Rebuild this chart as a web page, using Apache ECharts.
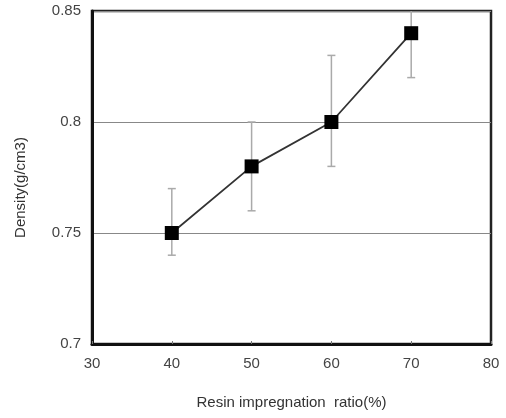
<!DOCTYPE html>
<html>
<head>
<meta charset="utf-8">
<script src="https://cdn.jsdelivr.net/npm/echarts@6/dist/echarts.min.js"></script>
<style>
  html, body { margin: 0; padding: 0; background: #fff; }
  #main { width: 506px; height: 418px; }
</style>
</head>
<body>
<div id="main"></div>
<script>
// resin impregnation ratio vs density
var ratios = [40, 50, 60, 70];
var density = [0.75, 0.78, 0.80, 0.84];
var errLow = [0.74, 0.76, 0.78, 0.82];
var errHigh = [0.77, 0.80, 0.83, 0.86];

var chart = echarts.init(document.getElementById('main'));

var font = 'Liberation Sans, DejaVu Sans, sans-serif';

var option = {
    animation: false,
    grid: {
        left: 92,
        top: 11,
        right: 15,
        bottom: 74,
        show: true,
        borderColor: '#222',
        borderWidth: 2.5
    },
    xAxis: {
        type: 'value',
        min: 30,
        max: 80,
        interval: 10,
        name: 'Resin impregnation  ratio(%)',
        nameLocation: 'middle',
        nameGap: 51,
        nameTextStyle: {color: '#333', fontSize: 15, fontFamily: font},
        axisLine: {show: true, lineStyle: {color: '#111', width: 3}},
        axisTick: {show: true, inside: true, length: 3, lineStyle: {color: '#777'}},
        axisLabel: {color: '#444', fontSize: 15, fontFamily: font, margin: 12},
        splitLine: {show: false}
    },
    yAxis: {
        type: 'value',
        min: 0.7,
        max: 0.85,
        interval: 0.05,
        name: 'Density(g/cm3)',
        nameLocation: 'middle',
        nameGap: 64,
        nameTextStyle: {color: '#333', fontSize: 15, fontFamily: font, padding: [0, 20, 0, 0]},
        axisLine: {show: true, lineStyle: {color: '#111', width: 3}},
        axisTick: {show: false},
        axisLabel: {color: '#444', fontSize: 15, fontFamily: font, margin: 11,
            formatter: function (v) { return String(parseFloat(v.toFixed(2))); }},
        splitLine: {show: true, lineStyle: {color: '#888', width: 1}}
    },
    series: [
        {
            type: 'custom',
            z: 1,
            clip: true,
            data: ratios.map(function (r, i) { return [r, errLow[i], errHigh[i]]; }),
            renderItem: function (params, api) {
                var lo = api.coord([api.value(0), api.value(1)]);
                var hi = api.coord([api.value(0), api.value(2)]);
                var cap = 4;
                var style = {stroke: '#aaa', lineWidth: 1.5};
                return {
                    type: 'group',
                    children: [
                        {type: 'line', shape: {x1: lo[0], y1: lo[1], x2: hi[0], y2: hi[1]}, style: style},
                        {type: 'line', shape: {x1: lo[0] - cap, y1: lo[1], x2: lo[0] + cap, y2: lo[1]}, style: style},
                        {type: 'line', shape: {x1: hi[0] - cap, y1: hi[1], x2: hi[0] + cap, y2: hi[1]}, style: style}
                    ]
                };
            }
        },
        {
            type: 'line',
            z: 3,
            data: ratios.map(function (r, i) { return [r, density[i]]; }),
            symbol: 'rect',
            symbolSize: 14,
            lineStyle: {color: '#333', width: 1.8},
            itemStyle: {color: '#000'}
        }
    ]
};

chart.setOption(option);
</script>
</body>
</html>
